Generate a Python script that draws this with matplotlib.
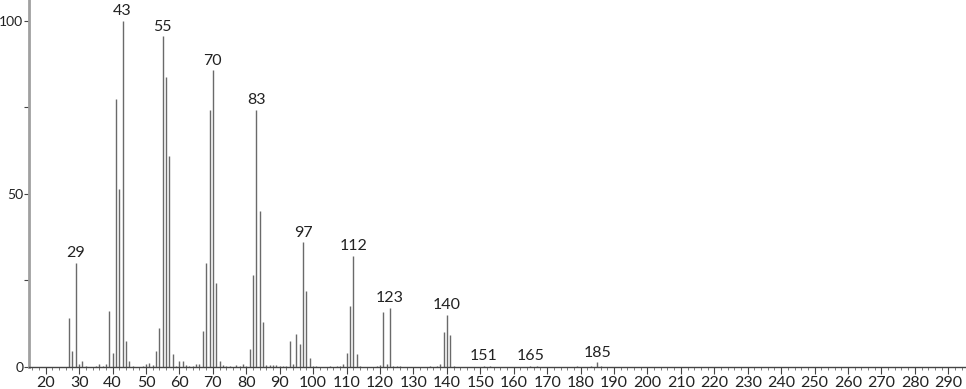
import matplotlib
matplotlib.use("Agg")
import matplotlib.pyplot as plt
from matplotlib.ticker import MultipleLocator, FixedLocator

mz = [27, 28, 29, 30, 31, 32, 35, 36, 37, 38, 39, 40, 41, 42, 43, 44, 45, 46, 49, 50,
      51, 52, 53, 54, 55, 56, 57, 58, 59, 60, 61, 62, 63, 64, 65, 66, 67, 68, 69, 70,
      71, 72, 73, 74, 75, 77, 78, 79, 80, 81, 82, 83, 84, 85, 86, 87, 88, 89, 90, 91,
      92, 93, 94, 95, 96, 97, 98, 99, 100, 101, 105, 107, 108, 109, 110, 111, 112, 113, 114, 119,
      120, 121, 122, 123, 124, 125, 126, 135, 137, 138, 139, 140, 141, 142, 151, 153, 165, 167, 179, 183,
      185, 186]
intensity = [14.2, 4.6, 30.0, 0.8, 1.8, 0.3, 0.3, 0.9, 0.4, 0.8, 16.1, 4.1, 77.3, 51.3, 100.0, 7.5, 1.7, 0.2, 0.3, 0.8,
             1.2, 0.5, 4.7, 11.2, 95.5, 83.8, 61.0, 3.8, 0.4, 1.6, 1.6, 0.5, 0.3, 0.3, 0.8, 0.8, 10.3, 30.0, 74.2, 85.7,
             24.2, 1.7, 0.6, 0.2, 0.3, 0.7, 0.3, 0.9, 0.3, 5.1, 26.6, 74.2, 45.1, 12.9, 0.6, 0.6, 0.5, 0.5, 0.2, 0.4,
             0.3, 7.4, 0.8, 9.4, 6.5, 36.0, 22.0, 2.6, 0.4, 0.2, 0.2, 0.3, 0.3, 1.0, 3.9, 17.5, 32.0, 3.7, 0.3, 0.2,
             0.7, 15.8, 1.0, 17.0, 0.4, 0.2, 0.3, 0.2, 0.3, 0.8, 10.0, 15.0, 9.3, 0.3, 0.4, 0.2, 0.4, 0.2, 0.3, 0.3,
             1.3, 0.2]
labeled = [29, 43, 55, 70, 83, 97, 112, 123, 140, 151, 165, 185]
x_ticks = list(range(20, 300, 10))
y_ticks = [0, 50, 100]

plt.rcParams['font.family'] = ['Lato', 'DejaVu Sans']

fig = plt.figure(figsize=(9.66, 3.89), dpi=100)
ax = fig.add_axes([29/966, 1 - 367/389, (965 - 29)/966, 367/389])

ax.vlines(mz, 0, intensity, colors='#6a6a6a', linewidth=1.0)

lookup = dict(zip(mz, intensity))
for m in labeled:
    ax.text(m, lookup[m] + 0.8, str(m), ha='center', va='bottom', fontsize=11.5, color='#222222')

ax.set_xlim(15, 295)
ax.set_ylim(0, 106)

ax.xaxis.set_major_locator(FixedLocator(x_ticks))
ax.xaxis.set_minor_locator(MultipleLocator(2))
ax.yaxis.set_major_locator(FixedLocator(y_ticks))
ax.yaxis.set_minor_locator(FixedLocator([25, 75]))

for s in ['top', 'right']:
    ax.spines[s].set_visible(False)
ax.spines['left'].set_color('#a0a0a0')
ax.spines['left'].set_linewidth(2.0)
ax.spines['bottom'].set_color('#444444')
ax.spines['bottom'].set_linewidth(1.0)

ax.tick_params(axis='x', which='major', length=5, width=0.8, color='#444444', labelsize=11.5, pad=1.5, labelcolor='#222222')
ax.tick_params(axis='x', which='minor', length=2.5, width=0.6, color='#666666')
ax.tick_params(axis='y', which='major', length=3.5, width=0.8, color='#444444', labelsize=10, pad=0.5, labelcolor='#222222')
ax.tick_params(axis='y', which='minor', length=3.5, width=0.8, color='#444444')

fig.savefig('out.png', dpi=100)
